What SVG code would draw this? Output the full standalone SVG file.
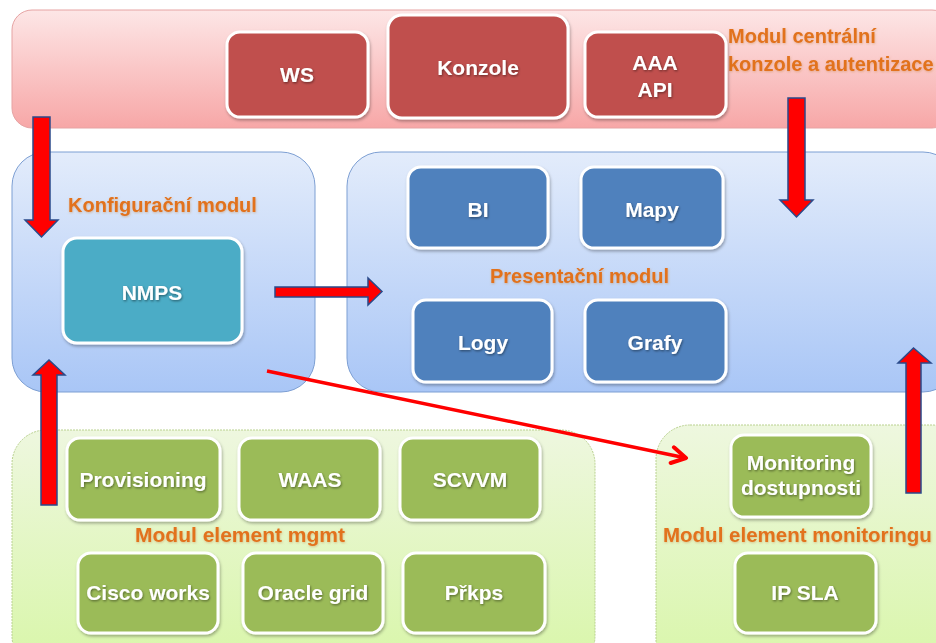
<svg xmlns="http://www.w3.org/2000/svg" width="936" height="643" viewBox="0 0 936 643">
<defs>
<linearGradient id="gPink" x1="0" y1="0" x2="0" y2="1"><stop offset="0" stop-color="#fde6e6"/><stop offset="1" stop-color="#f7a7a7"/></linearGradient>
<linearGradient id="gBlue" x1="0" y1="0" x2="0" y2="1"><stop offset="0" stop-color="#e3ecfb"/><stop offset="1" stop-color="#a9c6f6"/></linearGradient>
<linearGradient id="gGreen" x1="0" y1="0" x2="0" y2="1"><stop offset="0" stop-color="#eef7df"/><stop offset="1" stop-color="#d8f6a8"/></linearGradient>
<filter id="sh" x="-10%" y="-10%" width="125%" height="130%"><feDropShadow dx="1" dy="2" stdDeviation="1.5" flood-color="#000" flood-opacity="0.3"/></filter>
<filter id="tsh" x="-10%" y="-20%" width="120%" height="150%"><feDropShadow dx="0.8" dy="1.2" stdDeviation="0.8" flood-color="#000" flood-opacity="0.45"/></filter>
<filter id="osh" x="-5%" y="-20%" width="110%" height="150%"><feDropShadow dx="0.5" dy="1" stdDeviation="0.8" flood-color="#c98a4a" flood-opacity="0.5"/></filter>
<marker id="chev" viewBox="0 0 20 20" refX="17" refY="10" markerWidth="20" markerHeight="20" markerUnits="userSpaceOnUse" orient="auto">
<polyline points="3,2 17,10 3,18" fill="none" stroke="#ff0000" stroke-width="4" stroke-linecap="round" stroke-linejoin="round"/>
</marker>
<style>
.mod{stroke-width:1}
.pink{fill:url(#gPink);stroke:#e6a3a3}
.blue{fill:url(#gBlue);stroke:#7d9fd3}
.green{fill:url(#gGreen);stroke:#b9d18f;stroke-dasharray:2 1}
.box{stroke:#ffffff;stroke-width:3;filter:url(#sh)}
.red{fill:#c0504d}
.bl{fill:#4f81bd}
.gr{fill:#9bbb59}
.teal{fill:#4bacc6}
.bt{font-family:"Liberation Sans",Arial,sans-serif;font-weight:bold;font-size:21px;fill:#ffffff;text-anchor:middle;filter:url(#tsh)}
.ol{font-family:"Liberation Sans",Arial,sans-serif;font-weight:bold;font-size:20px;fill:#e2721d;filter:url(#osh)}
.ol21{font-size:21px}
.olm{font-size:20.5px}
.fat{fill:#ff0000;stroke:#2a4a8a;stroke-width:1.5;stroke-linejoin:miter}
.thin{fill:none;stroke:#ff0000;stroke-width:3.5}
</style>
</defs>
<rect width="936" height="643" fill="#ffffff"/>

<g id="modul-centralni">
<rect class="mod pink" x="12" y="10" width="940" height="118" rx="20"/>
<text class="ol" x="728" y="43">Modul centrální</text>
<text class="ol" x="728" y="71">konzole a autentizace</text>
</g>
<g id="konfiguracni-modul">
<rect class="mod blue" x="12" y="152" width="303" height="240" rx="34"/>
<text class="ol" x="68" y="212">Konfigurační modul</text>
</g>
<g id="presentacni-modul">
<rect class="mod blue" x="347" y="152" width="610" height="240" rx="34"/>
<text class="ol" x="490" y="283">Presentační modul</text>
</g>
<g id="modul-element-mgmt">
<rect class="mod green" x="12" y="430" width="583" height="240" rx="34"/>
<text class="ol ol21" x="135" y="542">Modul element mgmt</text>
</g>
<g id="modul-element-monitoringu">
<rect class="mod green" x="656" y="425" width="310" height="250" rx="34"/>
<text class="ol olm" x="663" y="542">Modul element monitoringu</text>
</g>

<g id="ws"><rect class="box red" x="227" y="32" width="141" height="85" rx="13"/><text class="bt" x="297" y="82">WS</text></g>
<g id="konzole"><rect class="box red" x="388" y="15" width="180" height="103" rx="14"/><text class="bt" x="478" y="75">Konzole</text></g>
<g id="aaa-api"><rect class="box red" x="585" y="32" width="141" height="85" rx="13"/><text class="bt" x="655" y="70">AAA</text><text class="bt" x="655" y="97">API</text></g>

<g id="nmps"><rect class="box teal" x="63" y="238" width="179" height="105" rx="14"/><text class="bt" x="152" y="300">NMPS</text></g>

<g id="bi"><rect class="box bl" x="408" y="167" width="140" height="81" rx="13"/><text class="bt" x="478" y="217">BI</text></g>
<g id="mapy"><rect class="box bl" x="581" y="167" width="142" height="81" rx="13"/><text class="bt" x="652" y="217">Mapy</text></g>
<g id="logy"><rect class="box bl" x="413" y="300" width="139" height="82" rx="13"/><text class="bt" x="483" y="350">Logy</text></g>
<g id="grafy"><rect class="box bl" x="585" y="300" width="141" height="82" rx="13"/><text class="bt" x="655" y="350">Grafy</text></g>

<g id="provisioning"><rect class="box gr" x="67" y="438" width="153" height="82" rx="13"/><text class="bt" x="143" y="487">Provisioning</text></g>
<g id="waas"><rect class="box gr" x="239" y="438" width="141" height="82" rx="13"/><text class="bt" x="310" y="487">WAAS</text></g>
<g id="scvvm"><rect class="box gr" x="400" y="438" width="140" height="82" rx="13"/><text class="bt" x="470" y="487">SCVVM</text></g>
<g id="cisco-works"><rect class="box gr" x="78" y="553" width="140" height="80" rx="13"/><text class="bt" x="148" y="600">Cisco works</text></g>
<g id="oracle-grid"><rect class="box gr" x="243" y="553" width="140" height="80" rx="13"/><text class="bt" x="313" y="600">Oracle grid</text></g>
<g id="prkps"><rect class="box gr" x="403" y="553" width="142" height="80" rx="13"/><text class="bt" x="474" y="600">Přkps</text></g>

<g id="monitoring-dostupnosti"><rect class="box gr" x="731" y="435" width="140" height="82" rx="13"/><text class="bt" x="801" y="470">Monitoring</text><text class="bt" x="801" y="495">dostupnosti</text></g>
<g id="ip-sla"><rect class="box gr" x="735" y="553" width="141" height="80" rx="13"/><text class="bt" x="805" y="600">IP SLA</text></g>

<g id="connectors">
<path class="fat" d="M33,117 H50 V220 H58 L41.5,237 L25,220 H33 Z"/>
<path class="fat" d="M788,98 H805 V200 H813 L796.5,217 L780,200 H788 Z"/>
<path class="fat" d="M275,287 H368 V278 L382,291.5 L368,305 V297 H275 Z"/>
<path class="fat" d="M41,505 V375 H33 L49,360 L65,375 H57 V505 Z"/>
<path class="fat" d="M906,493 V363 H898 L913.5,348 L931,363 H921 V493 Z"/>
<line class="thin" x1="267" y1="371" x2="686" y2="458" marker-end="url(#chev)"/>
</g>
</svg>
